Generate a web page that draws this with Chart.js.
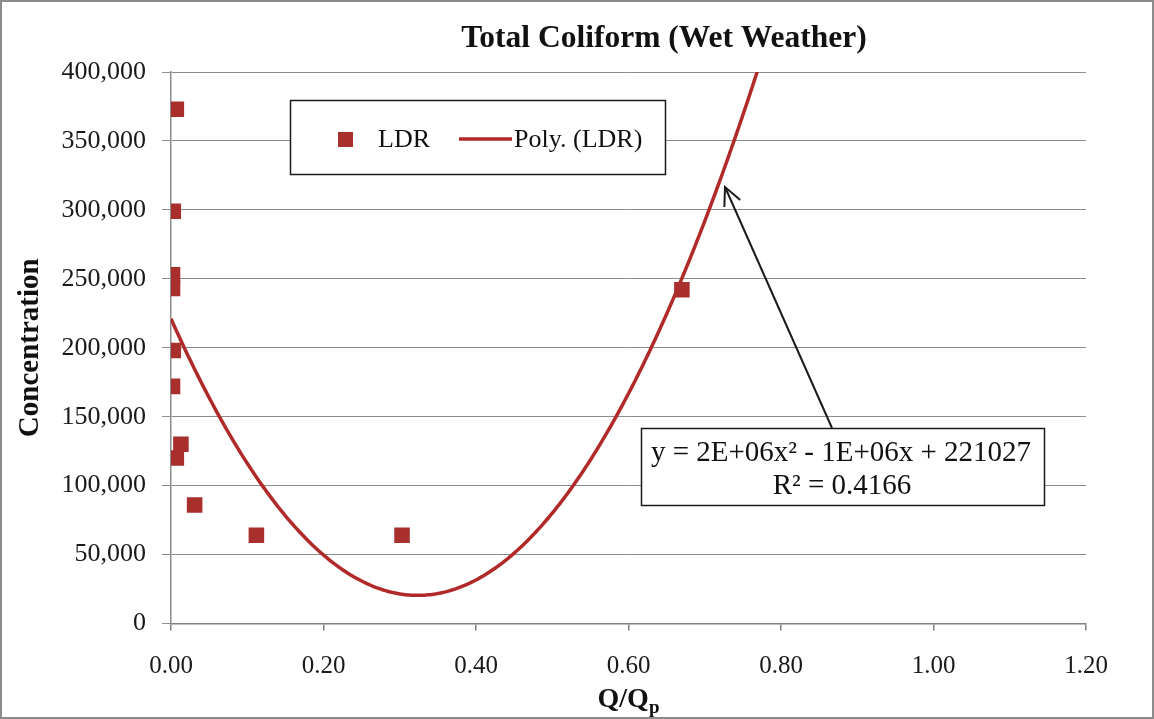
<!DOCTYPE html>
<html>
<head>
<meta charset="utf-8">
<script src="https://cdn.jsdelivr.net/npm/chart.js@4.4.1/dist/chart.umd.min.js"></script>
<style>
  html, body { margin: 0; padding: 0; background: #ffffff; }
  canvas { display: block; }
</style>
</head>
<body>
<canvas id="chart" width="1154" height="719"></canvas>
<script>
// Observed LDR samples: flow ratio Q/Qp and total coliform concentration
const qRatio        = [0.007, 0.003, 0.002, 0.002, 0.003, 0.002, 0.013, 0.007, 0.031, 0.112, 0.303, 0.670];
const concentration = [373000, 299000, 253000, 243000, 198000, 172000, 130000, 120000, 86000, 64000, 64000, 242000];

// Axis ticks
const xTickValues = [0, 0.2, 0.4, 0.6, 0.8, 1.0, 1.2];
const yTickValues = [0, 50000, 100000, 150000, 200000, 250000, 300000, 350000, 400000];

// Second-order polynomial trendline: y = a*x^2 + b*x + c
const trendA = 1916000;
const trendB = -1240000;
const trendC = 221027;
const trendEquation = 'y = 2E+06x\u00B2 - 1E+06x + 221027';
const trendR2 = 'R\u00B2 = 0.4166';

const SERIF = "'Liberation Serif', 'Times New Roman', serif";
const MARK_RED = '#A82F2C';
const LINE_RED = '#B02A2A';

const ldrPoints = qRatio.map((q, i) => ({ x: q, y: concentration[i] }));

// Trendline sampled along the x range it crosses inside the plot
const trendPoints = [];
for (let i = 0; i <= 320; i++) {
  const x = i * 0.0025;
  trendPoints.push({ x: x, y: trendA * x * x + trendB * x + trendC });
}

const decorations = {
  id: 'decorations',
  beforeDraw(chart) {
    const ctx = chart.ctx;
    ctx.save();
    ctx.fillStyle = '#ffffff';
    ctx.fillRect(0, 0, chart.width, chart.height);
    ctx.restore();
  },
  afterDraw(chart) {
    const ctx = chart.ctx;
    const area = chart.chartArea;
    const ds = chart.data.datasets;
    ctx.save();

    // outer frame
    ctx.strokeStyle = '#8c8c8c';
    ctx.lineWidth = 2;
    ctx.strokeRect(1, 1, chart.width - 2, chart.height - 2);

    // chart title
    ctx.fillStyle = '#111111';
    ctx.font = 'bold 31.5px ' + SERIF;
    ctx.textAlign = 'center';
    ctx.textBaseline = 'middle';
    ctx.fillText('Total Coliform (Wet Weather)', 664, 39);

    // x axis title with subscript
    const mainFont = 'bold 28px ' + SERIF;
    const subFont = 'bold 19px ' + SERIF;
    ctx.font = mainFont;
    const wMain = ctx.measureText('Q/Q').width;
    ctx.font = subFont;
    const wSub = ctx.measureText('p').width;
    const xStart = (area.left + area.right) / 2 - (wMain + wSub) / 2;
    ctx.textAlign = 'left';
    ctx.textBaseline = 'alphabetic';
    ctx.font = mainFont;
    ctx.fillText('Q/Q', xStart, 707);
    ctx.font = subFont;
    ctx.fillText('p', xStart + wMain, 713);

    // legend box
    ctx.fillStyle = '#ffffff';
    ctx.fillRect(290, 100, 375, 74);
    ctx.strokeStyle = '#1a1a1a';
    ctx.lineWidth = 1.5;
    ctx.strokeRect(290.5, 100.5, 375, 74);
    ctx.fillStyle = ds[0].backgroundColor;
    ctx.fillRect(338, 132, 15, 15);
    ctx.fillStyle = '#111111';
    ctx.font = '26px ' + SERIF;
    ctx.textBaseline = 'middle';
    ctx.fillText(ds[0].label, 378, 140);
    ctx.strokeStyle = ds[1].borderColor;
    ctx.lineWidth = 3.5;
    ctx.beginPath();
    ctx.moveTo(459, 139);
    ctx.lineTo(512, 139);
    ctx.stroke();
    ctx.fillText(ds[1].label, 514, 140);

    // equation box
    ctx.fillStyle = '#ffffff';
    ctx.fillRect(641, 428, 403, 77);
    ctx.strokeStyle = '#1a1a1a';
    ctx.lineWidth = 1.5;
    ctx.strokeRect(641.5, 428.5, 403, 77);
    ctx.fillStyle = '#111111';
    ctx.font = '29px ' + SERIF;
    ctx.textAlign = 'center';
    ctx.fillText(trendEquation, 841, 453);
    ctx.fillText(trendR2, 842, 486);

    // callout arrow from the equation to the trendline
    const tipX = 725, tipY = 187, tailX = 832, tailY = 428;
    ctx.strokeStyle = '#1a1a1a';
    ctx.lineWidth = 2;
    ctx.beginPath();
    ctx.moveTo(tailX, tailY);
    ctx.lineTo(tipX, tipY);
    ctx.stroke();
    const ang = Math.atan2(tailY - tipY, tailX - tipX);
    const head = 20, spread = 0.45;
    ctx.beginPath();
    ctx.moveTo(tipX + head * Math.cos(ang - spread), tipY + head * Math.sin(ang - spread));
    ctx.lineTo(tipX, tipY);
    ctx.lineTo(tipX + head * Math.cos(ang + spread), tipY + head * Math.sin(ang + spread));
    ctx.stroke();

    ctx.restore();
  }
};

new Chart(document.getElementById('chart'), {
  type: 'scatter',
  data: {
    datasets: [
      {
        label: 'LDR',
        data: ldrPoints,
        backgroundColor: MARK_RED,
        borderColor: MARK_RED,
        borderWidth: 0,
        pointStyle: 'rect',
        pointRadius: 11,
        pointHoverRadius: 11,
        order: 1
      },
      {
        type: 'line',
        label: 'Poly. (LDR)',
        data: trendPoints,
        borderColor: LINE_RED,
        backgroundColor: LINE_RED,
        borderWidth: 3.5,
        pointRadius: 0,
        tension: 0,
        fill: false,
        clip: 0,
        order: 2
      }
    ]
  },
  options: {
    responsive: false,
    devicePixelRatio: 1,
    animation: false,
    events: [],
    layout: { padding: { top: 72, right: 68, left: 0, bottom: 0 } },
    plugins: {
      legend: { display: false },
      title: { display: false },
      tooltip: { enabled: false }
    },
    scales: {
      x: {
        type: 'linear',
        min: 0,
        max: 1.2,
        afterBuildTicks: s => { s.ticks = xTickValues.map(v => ({ value: v })); },
        afterFit: s => { s.height = 95.5; },
        ticks: {
          callback: v => Number(v).toFixed(2),
          font: { family: SERIF, size: 25 },
          color: '#1a1a1a',
          padding: 21,
          maxRotation: 0
        },
        grid: {
          drawOnChartArea: false,
          drawTicks: true,
          tickLength: 7,
          color: '#808080',
          lineWidth: 1.5
        },
        border: { display: true, color: '#808080', width: 1.5 }
      },
      y: {
        type: 'linear',
        min: 0,
        max: 400000,
        afterBuildTicks: s => { s.ticks = yTickValues.map(v => ({ value: v })); },
        afterFit: s => { s.width = 171; },
        ticks: {
          callback: v => Number(v).toLocaleString('en-US'),
          font: { family: SERIF, size: 26 },
          color: '#1a1a1a',
          padding: 16
        },
        grid: {
          drawTicks: true,
          tickLength: 9,
          color: '#8c8c8c',
          lineWidth: 1
        },
        border: { display: true, color: '#8c8c8c', width: 1.5 },
        title: {
          display: true,
          text: 'Concentration',
          font: { family: SERIF, size: 29, weight: 'bold' },
          color: '#111111',
          padding: { top: 13, bottom: 0 }
        }
      }
    }
  },
  plugins: [decorations]
});
</script>
</body>
</html>
